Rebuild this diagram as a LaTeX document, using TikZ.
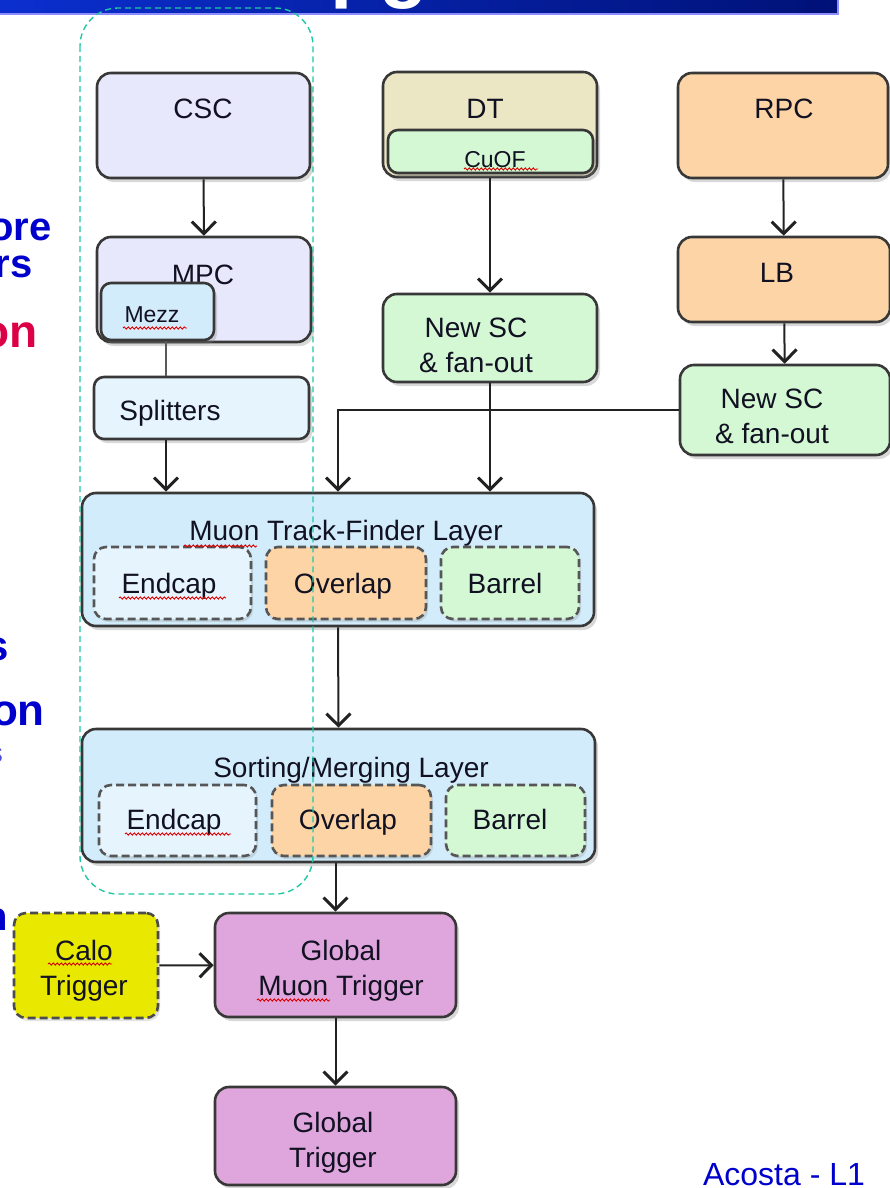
\documentclass[tikz,border=0pt]{standalone}
\usepackage{fontspec}
\setmainfont{Liberation Sans}
\usetikzlibrary{fit,shadows,arrows.meta,decorations.pathmorphing}
\definecolor{lav}{HTML}{E8E8FC}
\definecolor{beige}{HTML}{EBE6C3}
\definecolor{grn}{HTML}{D4F8D4}
\definecolor{org}{HTML}{FDD4A5}
\definecolor{mezzc}{HTML}{D3ECFC}
\definecolor{lblue}{HTML}{E5F4FD}
\definecolor{layer}{HTML}{D2ECFB}
\definecolor{pinkc}{HTML}{DFA6DD}
\definecolor{caloc}{HTML}{E8E800}
\definecolor{tealc}{HTML}{1FC9A3}
\definecolor{bordc}{HTML}{383838}
\definecolor{txtc}{HTML}{111122}
\definecolor{slideblue}{HTML}{0000CC}
\definecolor{slidered}{HTML}{DC0046}
\definecolor{linec}{HTML}{222222}
\definecolor{barL}{HTML}{0B2FCF}
\definecolor{barR}{HTML}{001177}
\tikzset{
  box/.style={draw=bordc, line width=2.6pt, rounded corners=14pt, inner sep=0pt,
    drop shadow={opacity=0.3, shadow xshift=3pt, shadow yshift=-4pt}},
  subbox/.style={draw=bordc!85, line width=2.6pt, dash pattern=on 8pt off 4pt,
    rounded corners=12pt, inner sep=0pt,
    drop shadow={opacity=0.22, shadow xshift=2pt, shadow yshift=-3pt}},
  lbl/.style={anchor=base, inner sep=0pt, text=txtc, align=center,
    font=\fontsize{28}{35}\selectfont},
  slbl/.style={lbl, font=\fontsize{23}{28}\selectfont},
  arr/.style={draw=linec, line width=2pt,
    -{Straight Barb[length=12pt,width=24pt,line width=3pt]}},
  ln/.style={draw=linec!75, line width=2.2pt},
  squig/.style={draw=red!85!black, line width=0.9pt, decorate,
    decoration={snake, amplitude=1.1pt, segment length=4pt}},
  frag/.style={anchor=base east, inner sep=0pt, font=\fontsize{40}{40}\bfseries\selectfont, text=slideblue}
}
\begin{document}
\begin{tikzpicture}[x=1pt,y=-1pt]
\useasboundingbox (0,0) rectangle (890,1188);
\fill[white] (0,0) rectangle (890,1188);

% title bar (cut off at the top)
\shade[left color=barL, right color=barR] (0,0) rectangle (838,14);
\draw[blue!45!white, line width=1.2pt] (0,14) -- (838,14) -- (838,0);
\node[anchor=base west, inner sep=0pt, text=white, font=\fontsize{80}{80}\bfseries\selectfont] (ttl) at (330,-7) {pg};

% left fragments of the slide text
\node[frag] (f1) at (52,240) {ore};
\node[frag] (f2) at (33,277) {rs};
\node[frag, text=slidered, font=\fontsize{46}{46}\bfseries\selectfont] (f3) at (38,347) {on};
\node[frag, font=\fontsize{42}{42}\bfseries\selectfont] (f4) at (9,660) {s};
\node[frag, font=\fontsize{44}{44}\bfseries\selectfont] (f5) at (45,725) {on};
\node[frag, text=slideblue!70, font=\fontsize{28}{28}\selectfont] (f6) at (3,762) {s};
\node[frag] (f7) at (8,930) {n};

% top row
\node[box, fill=lav, fit={(97,73) (310,178)}] (csc) {};
\node[lbl] (csct) at (203,118) {CSC};
\node[box, fill=beige, fit={(383,72) (597,177)}] (dt) {};
\node[lbl] (dtt) at (485,118) {DT};
\node[box, fill=grn, rounded corners=10pt, fit={(388,130) (593,173)}] (cuof) {};
\node[slbl] (cuoft) at (495,167) {CuOF};
\node[box, fill=org, fit={(678,73) (888,178)}] (rpc) {};
\node[lbl] (rpct) at (784,118) {RPC};

% CSC column
\node[box, fill=lav, fit={(97,237) (311,342)}] (mpc) {};
\node[lbl] (mpct) at (203,284) {MPC};
\node[box, fill=mezzc, rounded corners=10pt, fit={(101,283) (214,340)}] (mezz) {};
\node[slbl] (mezzt) at (152,322) {Mezz};
\node[box, fill=lblue, rounded corners=10pt, fit={(94,377) (309,439)}] (spl) {};
\node[lbl] (splt) at (170,420) {Splitters};

% DT column
\node[box, fill=grn, fit={(383,294) (597,382)}] (nsca) {};
\node[lbl] (nscat) at (476,372) {New SC\\\& fan-out};

% RPC column
\node[box, fill=org, fit={(678,237) (890,322)}] (lb) {};
\node[lbl] (lbt) at (777,282) {LB};
\node[box, fill=grn, fit={(680,365) (890,455)}] (nscb) {};
\node[lbl] (nscbt) at (772,443) {New SC\\\& fan-out};

% Muon Track-Finder layer
\node[box, fill=layer, fit={(82,493) (594,626)}] (mtf) {};
\node[lbl] (mtft) at (346,540) {Muon Track-Finder Layer};
\node[subbox, fill=lblue, fit={(94,547) (251,619)}] (ea) {};
\node[subbox, fill=org, fit={(266,547) (426,619)}] (oa) {};
\node[subbox, fill=grn, fit={(441,547) (579,619)}] (ba) {};
\node[lbl] (eat) at (169,593) {Endcap};
\node[lbl] (oat) at (343,593) {Overlap};
\node[lbl] (bat) at (505,593) {Barrel};

% Sorting/Merging layer
\node[box, fill=layer, fit={(82,729) (595,862)}] (sm) {};
\node[lbl] (smt) at (351,777) {Sorting/Merging Layer};
\node[subbox, fill=lblue, fit={(99,785) (256,856)}] (eb) {};
\node[subbox, fill=org, fit={(272,785) (431,856)}] (ob) {};
\node[subbox, fill=grn, fit={(446,785) (585,856)}] (bb) {};
\node[lbl] (ebt) at (174,829) {Endcap};
\node[lbl] (obt) at (348,829) {Overlap};
\node[lbl] (bbt) at (510,829) {Barrel};

% Global triggers
\node[box, fill=pinkc, fit={(215,913) (456,1017)}] (gmt) {};
\node[lbl] (gmtt) at (341,995) {Global\\Muon Trigger};
\node[subbox, draw=bordc!90, fill=caloc, fit={(14,913) (158,1018)}] (calo) {};
\node[lbl] (calot) at (84,995) {Calo\\Trigger};
\node[box, fill=pinkc, fit={(215,1087) (456,1185)}] (gt) {};
\node[lbl] (gtt) at (333,1167) {Global\\Trigger};

% connectors
\coordinate (xs) at (166,0);
\draw[arr] (csc) -- (mpc);
\draw[ln] (mezz.south -| xs) -- (spl.north -| xs);
\draw[arr] (spl.south -| xs) -- (mtf.north -| xs);
\draw[arr] (dt.south -| nsca.north) -- (nsca.north);
\draw[arr] (nsca.south) -- (nsca.south |- mtf.north);
\draw[arr] (rpc) -- (lb);
\draw[arr] (lb) -- (nscb);
\draw[arr] (nscb.west) -| (mtf.north);
\draw[arr] (mtf.south) -- (sm.north);
\draw[arr] (gmt.north |- sm.south) -- (gmt.north);
\draw[arr] (calo) -- (gmt);
\draw[arr] (gmt) -- (gt);

% spell-check squiggles
\draw[squig] (464,169) -- (538,169);
\draw[squig] (123,328) -- (187,328);
\draw[squig] (184,546) -- (257,546);
\draw[squig] (119,598) -- (226,598);
\draw[squig] (125,834) -- (231,834);
\draw[squig] (48,964) -- (112,964);
\draw[squig] (257,1000) -- (330,1000);

% teal dashed grouping outline
\draw[tealc, line width=1.4pt, dash pattern=on 6pt off 4pt, rounded corners=38pt] (80,8) rectangle (313,894);

% footer
\node[anchor=base, inner sep=0pt, text=slideblue, font=\fontsize{32}{32}\selectfont] (foot) at (784,1185) {Acosta - L1};
\end{tikzpicture}
\end{document}
